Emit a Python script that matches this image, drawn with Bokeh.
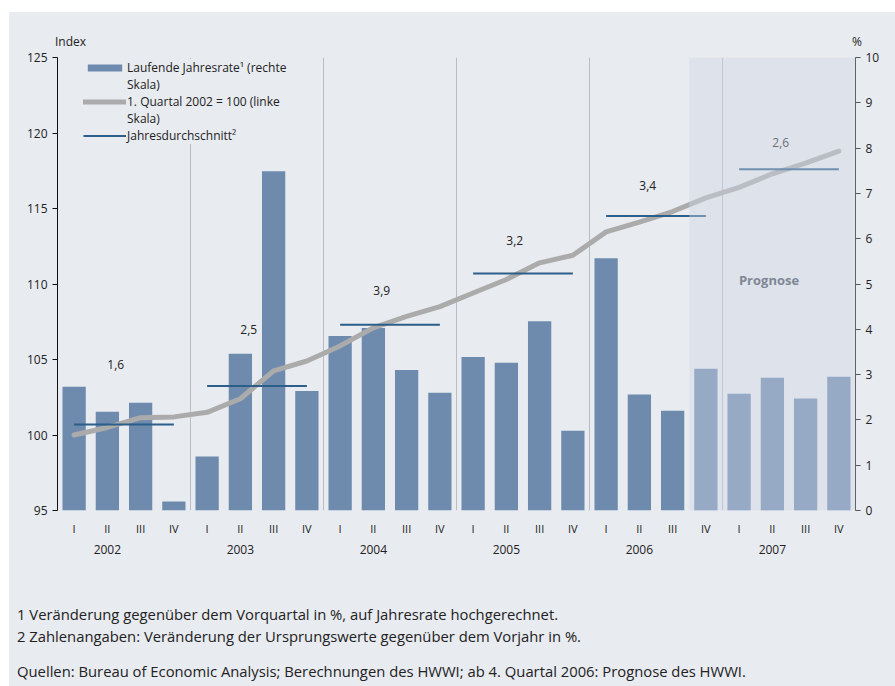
from bokeh.plotting import figure
from bokeh.models import (Range1d, LinearAxis, FixedTicker, BoxAnnotation, Label,
                          Legend, LegendItem, Div)
from bokeh.layouts import column
from bokeh.embed import file_html
from bokeh.resources import INLINE
from bokeh.core.properties import value

# ---------------- data ----------------
years = ["2002", "2003", "2004", "2005", "2006", "2007"]
quarters = ["I", "II", "III", "IV"]
# Laufende Jahresrate (%), right scale
rate = [2.73, 2.18, 2.38, 0.20,
        1.19, 3.46, 7.49, 2.64,
        3.85, 4.03, 3.10, 2.60,
        3.39, 3.26, 4.18, 1.76,
        5.57, 2.56, 2.20, 3.13,
        2.58, 2.93, 2.47, 2.95]
# 1. Quartal 2002 = 100, left scale
index = [100.0, 100.5, 101.15, 101.2,
         101.5, 102.4, 104.25, 104.9,
         105.9, 107.1, 107.85, 108.5,
         109.4, 110.3, 111.4, 111.9,
         113.45, 114.1, 114.8, 115.7,
         116.4, 117.3, 118.0, 118.8]
# Jahresdurchschnitt (drawn on index scale) and its printed value
avg_level = [100.7, 103.25, 107.3, 110.7, 114.5, 117.6]
avg_text = ["1,6", "2,5", "3,9", "3,2", "3,4", "2,6"]
avg_label_level = [104.65, 107.0, 109.55, 112.85, 116.55, 119.35]
forecast_start = 19  # from 4. Quartal 2006

left_ticks = [95, 100, 105, 110, 115, 120, 125]
right_ticks = list(range(0, 11))

FONT = "Open Sans"
BG = "#E8EBF0"
TXT = "#222222"
W = 886

n = len(rate)
xs = [i + 0.5 for i in range(n)]
qlabels = [quarters[i % 4] for i in range(n)]

head = Div(text=(
    '<div style="position:relative;width:886px;height:38px;font-family:\'Open Sans\';'
    'font-size:12px;color:#222;">'
    '<span style="position:absolute;left:46px;top:22px;line-height:16px;">Index</span>'
    '<span style="position:absolute;left:843px;top:22px;line-height:16px;">%</span>'
    '</div>'), width=W, height=38, margin=0,
    styles={"background-color": BG, "overflow": "hidden"})

p = figure(width=W, height=506, output_backend="svg", toolbar_location=None,
           x_range=Range1d(0, n), y_range=Range1d(95, 125),
           background_fill_color=BG, border_fill_color=BG,
           min_border_left=48, min_border_right=40, min_border_top=7,
           min_border_bottom=45, outline_line_color=None, margin=0)
p.extra_y_ranges = {"pct": Range1d(0, 10)}
p.xgrid.visible = False
p.ygrid.visible = False

# year separators
sep_x = [4 * k for k in range(1, len(years))]
p.segment(x0=sep_x, x1=sep_x, y0=[95] * len(sep_x), y1=[125] * len(sep_x),
          line_color="#B9BDC3", line_width=1)

bars = p.vbar(x=xs, top=rate, bottom=0, width=0.7, y_range_name="pct",
              fill_color="#6E8BAE", line_color=None)

idx_line = p.line(xs, index, line_color="#ABABAB", line_width=5,
                  line_cap="round", line_join="round")

avg_x0 = [4 * k + 0.5 for k in range(len(years))]
avg_x1 = [4 * k + 3.5 for k in range(len(years))]
avg_seg = p.segment(x0=avg_x0, x1=avg_x1, y0=avg_level, y1=avg_level,
                    line_color="#2B5E88", line_width=2)

p.text(x=[4 * k + 1.75 for k in range(len(years))], y=avg_label_level, text=avg_text,
       text_font=value(FONT), text_font_size="12px", text_color=TXT,
       text_align="center", text_baseline="middle")

# blank swatch for the wrapped second line of legend labels
blank = p.line(x=[], y=[], line_alpha=0)

# forecast shading
p.add_layout(BoxAnnotation(left=forecast_start, right=n, fill_color="#CFD6E4",
                           fill_alpha=0.42, line_color=None))
p.add_layout(Label(x=21.4, y=110.27, text="Prognose", text_font=FONT,
                   text_font_size="13px", text_font_style="bold",
                   text_color="#7E8794", text_align="center", text_baseline="middle"))

# axes
ya = p.yaxis[0]
ya.ticker = FixedTicker(ticks=left_ticks)
ya.axis_line_color = "#111111"
ya.major_tick_line_color = "#111111"
ya.major_tick_out = 5
ya.major_tick_in = 0
ya.minor_tick_line_color = None
ya.major_label_text_font = FONT
ya.major_label_text_font_size = "12px"
ya.major_label_text_color = TXT
ya.major_label_standoff = 5

ra = LinearAxis(y_range_name="pct", ticker=FixedTicker(ticks=right_ticks))
ra.axis_line_color = "#555555"
ra.major_tick_line_color = "#555555"
ra.major_tick_out = 5
ra.major_tick_in = 0
ra.minor_tick_line_color = None
ra.major_label_text_font = FONT
ra.major_label_text_font_size = "12px"
ra.major_label_text_color = TXT
ra.major_label_standoff = 5
p.add_layout(ra, "right")

xa = p.xaxis[0]
xa.ticker = FixedTicker(ticks=xs)
xa.major_label_overrides = {x: q for x, q in zip(xs, qlabels)}
xa.axis_line_color = None
xa.major_tick_line_color = None
xa.minor_tick_line_color = None
xa.major_label_text_font = FONT
xa.major_label_text_font_size = "11px"
xa.major_label_text_color = TXT
xa.major_label_standoff = 4

year_x = [4 * k + 1.5 for k in range(len(years))]
ya2 = LinearAxis(ticker=FixedTicker(ticks=year_x),
                 major_label_overrides={x: y for x, y in zip(year_x, years)})
ya2.axis_line_color = None
ya2.major_tick_line_color = None
ya2.minor_tick_line_color = None
ya2.major_label_text_font = FONT
ya2.major_label_text_font_size = "12px"
ya2.major_label_text_color = TXT
ya2.major_label_standoff = 0
p.add_layout(ya2, "below")

legend = Legend(items=[
    LegendItem(label="Laufende Jahresrate\u00b9 (rechte", renderers=[bars]),
    LegendItem(label="Skala)", renderers=[blank]),
    LegendItem(label="1. Quartal 2002 = 100 (linke", renderers=[idx_line]),
    LegendItem(label="Skala)", renderers=[blank]),
    LegendItem(label="Jahresdurchschnitt\u00b2", renderers=[avg_seg]),
], location=(26, 366), background_fill_color=BG, background_fill_alpha=1,
    border_line_color=None, glyph_width=43, glyph_height=9, label_standoff=1,
    label_text_font=FONT, label_text_font_size="12px", label_text_color=TXT,
    spacing=0, padding=3, margin=0, label_height=13)
p.add_layout(legend)

notes = Div(text=(
    '<div style="font-family:\'Open Sans\';font-size:14.8px;color:#222;line-height:22px;'
    'padding:47px 0 0 8px;white-space:nowrap;">'
    '1 Veränderung gegenüber dem Vorquartal in %, auf Jahresrate hochgerechnet.<br>'
    '2 Zahlenangaben: Veränderung der Ursprungswerte gegenüber dem Vorjahr in %.<br>'
    '<div style="height:13px"></div>'
    'Quellen: Bureau of Economic Analysis; Berechnungen des HWWI; ab 4. Quartal 2006: Prognose des HWWI.'
    '</div>'), width=W, height=130, margin=0,
    styles={"background-color": BG, "overflow": "hidden"})

layout = column(head, p, notes, spacing=0, margin=(12, 0, 0, 9),
                styles={"background-color": BG})
open("out.html", "w").write(file_html(layout, INLINE))
